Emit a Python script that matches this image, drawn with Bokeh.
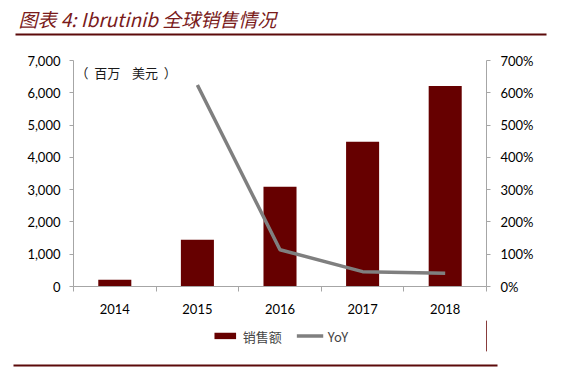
from bokeh.plotting import figure
from bokeh.layouts import column
from bokeh.models import (Range1d, LinearAxis, FixedTicker, NumeralTickFormatter,
                          PrintfTickFormatter, Label, Legend, LegendItem, Title,
                          ColorBar, LinearColorMapper)
from bokeh.embed import file_html
from bokeh.resources import INLINE

years = ["2014", "2015", "2016", "2017", "2018"]
sales = [210, 1445, 3090, 4480, 6210]
yoy_years = ["2015", "2016", "2017", "2018"]
yoy = [624, 114, 46, 41]
left_ticks = [0, 1000, 2000, 3000, 4000, 5000, 6000, 7000]
right_ticks = [0, 100, 200, 300, 400, 500, 600, 700]
series_names = ["销售额", "YoY"]

xpos = {y: i + 1 for i, y in enumerate(years)}
bar_x = [xpos[y] for y in years]
yoy_x = [xpos[y] for y in yoy_years]

rule_color = "#5c0a0a"
bar_color = "#660000"
line_color = "#7f7f7f"

p = figure(frame_width=413, frame_height=226, output_backend="svg", toolbar_location=None,
           x_range=Range1d(0.5, len(years) + 0.5), y_range=Range1d(0, 7000),
           min_border_left=73, min_border_right=88, min_border_top=60, min_border_bottom=34,
           x_axis_location=None, y_axis_location=None)
p.outline_line_color = None
p.xgrid.visible = False
p.ygrid.visible = False
p.extra_y_ranges = {"yoy": Range1d(0, 700)}

axis_color = "#a6a6a6"
tick_font = "Lato"


def style_axis(a, standoff):
    a.axis_line_color = axis_color
    a.major_tick_line_color = axis_color
    a.major_tick_out = 4
    a.major_tick_in = 0
    a.minor_tick_line_color = None
    a.major_label_standoff = standoff
    a.major_label_text_font = tick_font
    a.major_label_text_font_size = "13px"
    a.major_label_text_color = "#000000"


la = LinearAxis(ticker=FixedTicker(ticks=left_ticks), formatter=NumeralTickFormatter(format="0,0"))
style_axis(la, 9)
p.add_layout(la, "left")

ra = LinearAxis(y_range_name="yoy", ticker=FixedTicker(ticks=right_ticks),
                formatter=PrintfTickFormatter(format="%d%%"))
style_axis(ra, 10)
p.add_layout(ra, "right")

bounds = [x - 0.5 for x in bar_x] + [bar_x[-1] + 0.5]
ba = LinearAxis(ticker=FixedTicker(ticks=bar_x, minor_ticks=bounds))
style_axis(ba, 12)
ba.major_label_overrides = {xpos[y]: y for y in years}
ba.major_tick_line_color = None
ba.major_tick_out = 0
ba.minor_tick_line_color = axis_color
ba.minor_tick_out = 5
ba.minor_tick_in = 0
p.add_layout(ba, "below")

p.vbar(x=bar_x, top=sales, width=0.4, fill_color=bar_color, line_color=None)
p.line(x=yoy_x, y=yoy, y_range_name="yoy", line_color=line_color, line_width=3.5)

nb = "\u00a0"
p.add_layout(Label(x=75, y=62, x_units="canvas", y_units="canvas",
                   text="（" + nb * 2 + "百万" + nb * 4 + "美元" + nb * 2 + "）",
                   text_font="Noto Sans CJK SC", text_font_size="13px",
                   text_color="#1a1a1a", text_baseline="top"))


def bar_strip(width, height, x, y=0, alpha=1.0):
    return ColorBar(color_mapper=LinearColorMapper(palette=[rule_color], low=0, high=1),
                    orientation="horizontal", width=width, height=height, padding=0, margin=0,
                    location=(x, y), scale_alpha=alpha,
                    ticker=FixedTicker(ticks=[]), major_tick_line_color=None,
                    minor_tick_line_color=None, bar_line_color=None, border_line_color=None,
                    background_fill_alpha=0)


# above: spacer, rule, title (inner to outer)
p.add_layout(bar_strip(300, 18, 0, alpha=0.0), "above")
p.add_layout(bar_strip(531, 2, -58, 7), "above")
p.add_layout(Title(text="图表 4: Ibrutinib 全球销售情况", align="left", offset=-55,
                   text_font="Noto Sans CJK SC", text_font_style="italic", text_font_size="19px",
                   text_color="#7a1b1b", standoff=3), "above")

# ---- legend strip below the chart (same frame alignment); its series lie outside its view
lg = figure(frame_width=413, frame_height=31, output_backend="svg", toolbar_location=None,
            x_range=Range1d(-10, -9), y_range=Range1d(0, 1),
            min_border_left=73, min_border_right=88, min_border_top=0, min_border_bottom=22,
            x_axis_location=None, y_axis_location=None)
lg.outline_line_color = None
lg.xgrid.visible = False
lg.ygrid.visible = False
lg_bar = lg.vbar(x=bar_x, top=sales, width=0.4, fill_color=bar_color, line_color=None)
lg_line = lg.line(x=yoy_x, y=yoy, line_color=line_color, line_width=3.5)

legend = Legend(items=[LegendItem(label=series_names[0], renderers=[lg_bar]),
                       LegendItem(label=series_names[1], renderers=[lg_line])],
                orientation="horizontal", location="center",
                glyph_width=27, glyph_height=8, label_text_font="Noto Sans CJK SC",
                label_text_font_size="13px", label_standoff=5, spacing=14,
                padding=0, margin=0, border_line_color=None, background_fill_alpha=0,
                label_height=14)
lg.add_layout(legend, "center")
lg.add_layout(bar_strip(484, 2, -60, -15), "below")

layout = column(p, lg, spacing=0)
open("out.html", "w").write(file_html(layout, INLINE))
